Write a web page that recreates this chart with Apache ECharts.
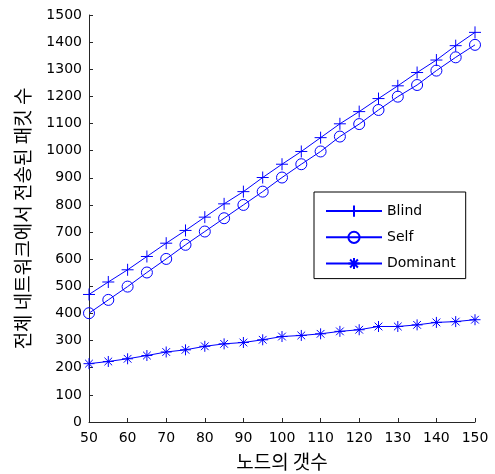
<!DOCTYPE html>
<html>
<head>
<meta charset="utf-8">
<script src="https://cdn.jsdelivr.net/npm/echarts@6/dist/echarts.min.js"></script>
<style>
html, body { margin: 0; padding: 0; background: #fff; }
#main { width: 495px; height: 474px; }
</style>
</head>
<body>
<div id="main"></div>
<script>
// 노드 개수 (x)
var nodes = [50, 55, 60, 65, 70, 75, 80, 85, 90, 95, 100, 105, 110, 115, 120, 125, 130, 135, 140, 145, 150];
// 시리즈 값
var blind = [470, 516, 561, 610, 659, 706, 755, 804, 849, 901, 950, 997, 1048, 1099, 1144, 1192, 1239, 1288, 1334, 1387, 1436];
var self = [401, 450, 499, 551, 601, 653, 702, 751, 800, 849, 901, 950, 997, 1052, 1098, 1150, 1199, 1242, 1295, 1344, 1390];
var dominant = [215, 223, 233, 245, 258, 266, 279, 288, 293, 303, 315, 319, 325, 334, 340, 352, 352, 358, 367, 370, 377];
var seriesNames = ['Blind', 'Self', 'Dominant'];

var blue = '#0000ff';
var font = 'DejaVu Sans, sans-serif';
var krFont = 'Noto Sans CJK KR';

function pairs(ys) {
  return nodes.map(function (x, i) { return [x, ys[i]]; });
}

function makeSeries(name, ys, symbol, size) {
  return {
    name: name,
    type: 'line',
    data: pairs(ys),
    symbol: symbol,
    symbolSize: size,
    showAllSymbol: true,
    animation: false,
    lineStyle: { color: blue, width: 1 },
    itemStyle: { color: 'none', borderColor: blue, borderWidth: 1 }
  };
}

function plain(v) { return String(v); }

var myChart = echarts.init(document.getElementById('main'));
myChart.setOption({
  backgroundColor: '#fff',
  textStyle: { fontFamily: font },
  grid: { left: 89, right: 20, top: 15, bottom: 52, outerBoundsMode: 'none', containLabel: false },
  legend: {
    orient: 'vertical',
    left: 314,
    top: 192,
    padding: [11, 10, 7, 11],
    itemGap: 10,
    itemWidth: 56,
    itemHeight: 14,
    borderColor: '#000',
    borderWidth: 1,
    backgroundColor: '#fff',
    textStyle: { fontSize: 14, color: '#000', fontFamily: font },
    data: seriesNames
  },
  xAxis: {
    type: 'value',
    min: 50,
    max: 150,
    interval: 10,
    name: '노드의 갯수',
    nameLocation: 'middle',
    nameGap: 30,
    nameTextStyle: { fontSize: 19, color: '#000', fontFamily: krFont },
    axisLine: { lineStyle: { color: '#262626', width: 1 } },
    axisTick: { inside: true, length: 4, lineStyle: { color: '#262626' } },
    axisLabel: { fontSize: 14, color: '#000', margin: 9, fontFamily: font, formatter: plain },
    splitLine: { show: false }
  },
  yAxis: {
    type: 'value',
    min: 0,
    max: 1500,
    interval: 100,
    name: '전체 네트워크에서 전송된 패킷 수',
    nameLocation: 'middle',
    nameGap: 57,
    nameTextStyle: { fontSize: 19, color: '#000', fontFamily: krFont },
    axisLine: { show: true, lineStyle: { color: '#262626', width: 1 } },
    axisTick: { show: true, inside: true, length: 4, lineStyle: { color: '#262626' } },
    axisLabel: { fontSize: 14, color: '#000', margin: 7, fontFamily: font, formatter: plain },
    splitLine: { show: false }
  },
  series: [
    makeSeries('Blind', blind, 'path://M0,-1L0,1M-1,0L1,0', 12),
    makeSeries('Self', self, 'circle', 11),
    makeSeries('Dominant', dominant, 'path://M0,-1L0,1M-1,0L1,0M-0.7,-0.7L0.7,0.7M-0.7,0.7L0.7,-0.7', 11)
  ]
});
</script>
</body>
</html>
